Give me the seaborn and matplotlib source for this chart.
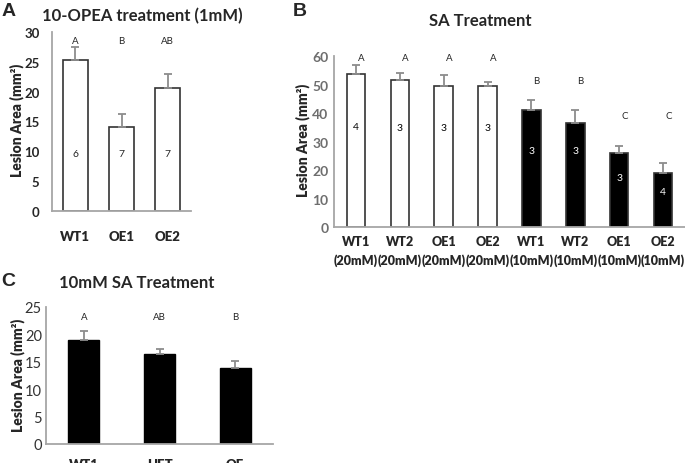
import matplotlib
matplotlib.use('Agg')
import matplotlib.pyplot as plt
import pandas as pd
import seaborn as sns

# Panel A: 10-OPEA treatment
a_labels = ['WT1', 'OE1', 'OE2']
a_means = [25.3, 14.1, 20.6]
a_err = [2.1, 2.1, 2.3]
a_letters = ['A', 'B', 'AB']
a_n = ['6', '7', '7']

# Panel B: SA treatment
b_labels = ['WT1\n(20mM)', 'WT2\n(20mM)', 'OE1\n(20mM)', 'OE2\n(20mM)',
            'WT1\n(10mM)', 'WT2\n(10mM)', 'OE1\n(10mM)', 'OE2\n(10mM)']
b_means = [53.7, 51.5, 49.6, 49.6, 41.2, 36.4, 25.8, 19.1]
b_err = [3.0, 2.6, 3.8, 1.4, 3.2, 4.5, 2.8, 3.2]
b_letters = ['A', 'A', 'A', 'A', 'B', 'B', 'C', 'C']
b_letter_y = [59.5, 59.5, 59.5, 59.5, 51.5, 51.5, 39, 39]
b_n = ['4', '3', '3', '3', '3', '3', '3', '4']
b_n_y = [35.3, 35, 35, 35, 27, 26.7, 17.5, 12.3]

# Panel C: 10mM SA treatment
c_labels = ['WT1', 'HET', 'OE']
c_means = [19.0, 16.5, 13.8]
c_err = [1.6, 0.9, 1.3]
c_letters = ['A', 'AB', 'B']

sns.set_style('white')
plt.rcParams['font.family'] = ['Lato', 'DejaVu Sans']

fig = plt.figure(figsize=(6.85, 4.64), dpi=100)
axA = fig.add_axes([0.0759, 0.543, 0.203, 0.386])
axB = fig.add_axes([0.4876, 0.5086, 0.5124, 0.3685])
axC = fig.add_axes([0.0672, 0.041, 0.3314, 0.2953])

SPINE = '#a6a6a6'
ERR = '#8c8c8c'


def style_axis(ax, ymax, step, tick_color, tick_weight, ypad, xpad, ysize,
               xsize, label_x):
    sns.despine(ax=ax)
    for s in ['left', 'bottom']:
        ax.spines[s].set_color(SPINE)
        ax.spines[s].set_linewidth(1.3)
    ax.set_ylim(0, ymax)
    ax.set_yticks(range(0, ymax + 1, step))
    ax.tick_params(axis='both', length=0)
    ax.tick_params(axis='y', pad=ypad, labelsize=ysize, labelcolor=tick_color)
    ax.tick_params(axis='x', pad=xpad, labelsize=xsize)
    for t in ax.get_yticklabels():
        t.set_fontweight(tick_weight)
    for t in ax.get_xticklabels():
        t.set_fontweight('heavy')
    ax.set_xlabel('')
    ax.set_ylabel('Lesion Area (mm²)', fontsize=10, fontweight='heavy')
    ax.yaxis.set_label_coords(label_x, 0.51)


# ---- A ----
dfA = pd.DataFrame({'line': a_labels, 'area': a_means})
sns.barplot(data=dfA, x='line', y='area', ax=axA, color='white',
            edgecolor='#333333', linewidth=1.2, width=0.54, errorbar=None)
axA.errorbar(range(len(a_means)), a_means, yerr=[[0] * 3, a_err], fmt='none',
             ecolor=ERR, elinewidth=1.3, capsize=3, capthick=1.3)
axA.set_xlim(-0.5, 2.5)
style_axis(axA, 30, 5, '#262626', 'bold', 9, 14, 9.5, 9.5, -0.2)
for i, (l, n) in enumerate(zip(a_letters, a_n)):
    axA.text(i, 28.6, l, ha='center', va='center', fontsize=7)
    axA.text(i, 9.7, n, ha='center', va='center', fontsize=7.5)

# ---- B ----
dfB = pd.DataFrame({'line': b_labels, 'area': b_means})
b_colors = ['white'] * 4 + ['black'] * 4
sns.barplot(data=dfB, x='line', y='area', hue='line', palette=b_colors,
            legend=False, ax=axB, edgecolor='#333333', linewidth=1.2,
            width=0.42, errorbar=None)
axB.errorbar(range(len(b_means)), b_means, yerr=[[0] * 8, b_err], fmt='none',
             ecolor=ERR, elinewidth=1.3, capsize=3, capthick=1.3)
axB.set_xlim(-0.5, 7.5)
style_axis(axB, 60, 10, '#6e6e6e', 'bold', 4, 6, 10, 9, -0.068)
for i, (l, ly, n, ny) in enumerate(zip(b_letters, b_letter_y, b_n, b_n_y)):
    axB.text(i + 0.12, ly, l, ha='center', va='center', fontsize=7)
    axB.text(i, ny, n, ha='center', va='center', fontsize=7.5,
             color='black' if i < 4 else 'white')
for t in axB.get_xticklabels():
    t.set_linespacing(1.6)

# ---- C ----
dfC = pd.DataFrame({'line': c_labels, 'area': c_means})
sns.barplot(data=dfC, x='line', y='area', ax=axC, color='black',
            edgecolor='black', width=0.41, errorbar=None)
axC.errorbar(range(len(c_means)), c_means, yerr=[[0] * 3, c_err], fmt='none',
             ecolor=ERR, elinewidth=1.3, capsize=3, capthick=1.3)
axC.set_xlim(-0.5, 2.5)
style_axis(axC, 25, 5, '#333333', 'normal', 3, 10, 10.5, 9.5, -0.092)
for i, l in enumerate(c_letters):
    axC.text(i, 23.3, l, ha='center', va='center', fontsize=7)

# titles and panel letters
fig.text(142 / 685, 1 - 16 / 464, '10-OPEA treatment (1mM)', ha='center',
         va='center', fontsize=12, fontweight='bold')
fig.text(480 / 685, 1 - 21 / 464, 'SA Treatment', ha='center', va='center',
         fontsize=12, fontweight='bold')
fig.text(137 / 685, 1 - 283 / 464, '10mM SA Treatment', ha='center',
         va='center', fontsize=12, fontweight='bold')
for lab, x, y in [('A', 2, 12), ('B', 293, 11), ('C', 1, 281)]:
    fig.text(x / 685, 1 - y / 464, lab, ha='left', va='center', fontsize=14,
             fontweight='bold', family=['Liberation Sans', 'DejaVu Sans'])

fig.savefig('out.png', dpi=100)
